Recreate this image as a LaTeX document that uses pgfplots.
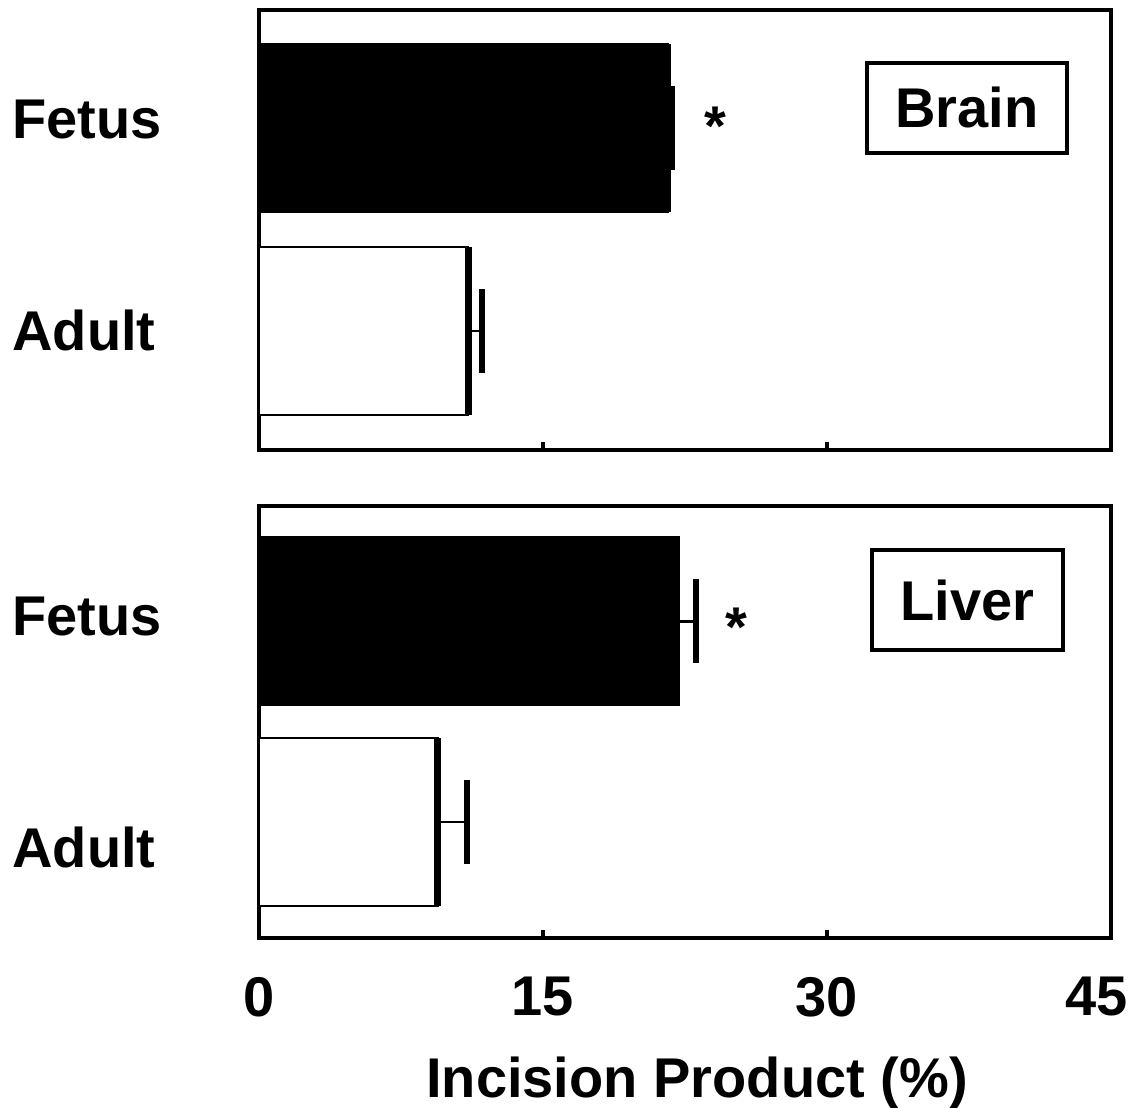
\documentclass[border=0pt]{standalone}
\usepackage{fontspec}
\setmainfont{Liberation Sans}
\usepackage{pgfplots}
\pgfplotsset{compat=1.18}

\pgfplotsset{
  panel/.style={
    scale only axis,
    width=426pt,
    xmin=0, xmax=45,
    xtick={0,15,30},
    extra x ticks={45},
    xtick pos=bottom,
    tick align=inside,
    major tick length=4pt,
    tick style={line width=2pt, black},
    ytick pos=left,
    ytick style={draw=none},
    axis line style={line width=2pt},
    yticklabel style={anchor=west, xshift=-126.75pt},
    /pgf/number format/assume math mode=true,
    clip=false,
  },
  % bars; the error whisker comes from the error bars, the cap is a separate mark
  fetusbar/.style={xbar, bar shift=0pt, bar width=84pt, fill=black, draw=black, line width=1pt,
    error bars/.cd, x dir=plus, x explicit,
    error bar style={line width=1.3pt}, error mark=none},
  adultbar/.style={xbar, bar shift=0pt, bar width=84pt, fill=white, draw=black, line width=1pt,
    error bars/.cd, x dir=plus, x explicit,
    error bar style={line width=1.3pt}, error mark=none},
  barend/.style={only marks, mark=|, mark size=42pt, mark options={line width=3.5pt, black}},
  cap/.style={only marks, mark=|, mark size=21pt, mark options={line width=3pt, black}},
}
\tikzset{tissue/.style={draw=black, line width=2pt, inner sep=0pt, align=center}}

\begin{document}
\begin{tikzpicture}[font=\fontsize{28}{34}\selectfont\bfseries]
\useasboundingbox (-129.5pt,5pt) rectangle (439pt,-549pt);

% Brain
\begin{axis}[panel, at={(0,0)}, anchor=north west,
  height=220pt, ymin=-0.586, ymax=1.581,
  ytick={0.005,1.04}, yticklabels={Adult,Fetus},
  xticklabels={}, extra x tick labels={}]
  \addplot[fetusbar] coordinates {(21.6,1) +- (0.24,0)};
  \addplot[barend] coordinates {(21.6,1)};
  \addplot[cap] coordinates {(21.84,1)};
  \addplot[adultbar] coordinates {(11.04,0) +- (0.74,0)};
  \addplot[barend] coordinates {(11.04,0)};
  \addplot[cap] coordinates {(11.78,0)};
  \node[anchor=base] at (axis cs:24.09,0.916) {*};
  \node[tissue, minimum width=100pt, minimum height=45pt] at (axis cs:37.4,1.10) {Brain};
\end{axis}

% Liver
\begin{axis}[panel, at={(0,-248pt)}, anchor=north west,
  height=216pt, ymin=-0.579, ymax=1.576,
  ytick={-0.125,1.027}, yticklabels={Adult,Fetus},
  xticklabel style={yshift=-16pt},
  extra x tick style={xticklabel style={xshift=-7pt}},
  xlabel={Incision Product (\%)},
  xlabel style={at={(axis description cs:0.5,0)}, anchor=north, yshift=-56pt, xshift=6pt}]
  \addplot[fetusbar] coordinates {(22.19,1) +- (0.89,0)};
  \addplot[cap] coordinates {(23.08,1)};
  \addplot[adultbar] coordinates {(9.43,0) +- (1.58,0)};
  \addplot[barend] coordinates {(9.43,0)};
  \addplot[cap] coordinates {(11.01,0)};
  \node[anchor=base] at (axis cs:25.2,0.873) {*};
  \node[tissue, minimum width=95.5pt, minimum height=50pt] at (axis cs:37.43,1.107) {Liver};
\end{axis}
\end{tikzpicture}
\end{document}
